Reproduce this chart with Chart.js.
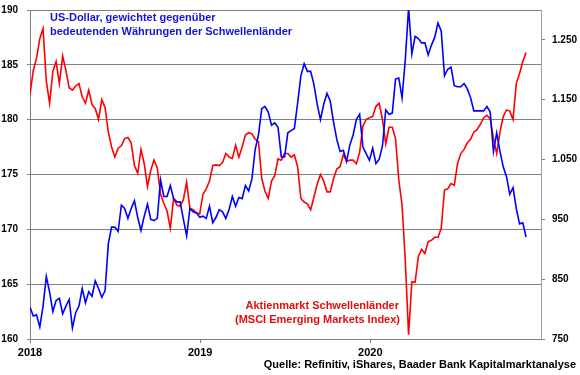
<!DOCTYPE html>
<html><head><meta charset="utf-8">
<script src="https://cdn.jsdelivr.net/npm/chart.js@4/dist/chart.umd.min.js"></script>
<style>html,body{margin:0;padding:0;background:#fff}canvas{display:block}</style>
</head><body>
<canvas id="c" width="580" height="375"></canvas>
<script>
// ---- data (weekly observations starting 2018-01-01) ----
const startDate = '2018-01-01';
const stepDays = 7;
const usdVsEmIndex = [
 162.9,162.1,162.2,161.1,163.0,165.7,164.3,162.5,163.5,163.7,
 162.3,163.0,163.6,161.0,162.4,163.0,164.6,163.3,164.3,163.9,
 165.3,164.6,163.8,164.4,168.7,170.2,170.2,169.8,172.2,171.9,
 171.0,171.9,172.6,171.1,169.9,171.2,172.3,170.9,170.8,171.0,
 174.5,173.0,173.0,174.0,172.8,172.5,172.5,170.9,169.4,171.9,
 171.6,171.5,171.1,171.2,171.0,172.1,170.6,171.1,171.8,171.6,
 171.0,171.8,173.0,172.1,172.9,172.8,174.0,173.5,174.6,177.3,
 178.6,181.0,181.2,180.7,179.5,179.7,179.3,176.6,176.6,178.8,
 179.0,179.2,181.5,184.0,185.1,184.4,184.4,183.2,181.4,180.0,
 181.4,182.4,181.7,179.8,178.2,177.1,177.2,176.2,177.7,178.6,
 180.0,180.5,177.5,176.9,176.3,177.4,176.0,176.4,177.6,180.9,
 180.5,180.6,183.7,183.8,182.0,185.5,190.2,186.0,187.6,187.4,
 187.0,187.0,185.9,186.8,187.5,188.8,188.1,184.0,184.6,184.8,
 183.1,183.0,183.0,183.3,182.8,182.0,180.8,180.8,180.8,180.8,
 181.2,180.7,177.1,178.8,177.1,175.7,174.8,173.2,173.8,171.9,
 170.5,170.6,169.3
];
const msciEmergingMarkets = [
 1159,1199,1219,1252,1269,1181,1144,1197,1214,1177,
 1223,1199,1170,1166,1173,1177,1155,1144,1166,1142,
 1135,1117,1150,1137,1096,1071,1054,1069,1073,1085,
 1087,1078,1040,1027,1067,1043,1005,1032,1049,1036,
 992,977,964,935,985,974,972,983,1012,968,
 966,961,959,992,1001,1014,1040,1041,1040,1045,
 1060,1054,1052,1074,1054,1071,1091,1095,1093,1084,
 1080,1019,997,985,1014,1023,1051,1049,1060,1060,
 1054,1058,1038,985,979,976,966,987,1009,1025,
 1014,996,996,1018,1034,1038,1058,1047,1049,1049,
 1043,1062,1106,1117,1120,1122,1139,1144,1117,1076,
 1104,1104,1085,1016,974,880,757,845,845,888,
 900,893,913,915,920,920,935,999,1001,1010,
 1007,1043,1060,1067,1078,1084,1096,1100,1109,1120,
 1124,1118,1085,1060,1096,1122,1133,1131,1117,1177,
 1194,1214,1229
];
const yearLabels = ['2018','2019','2020'];
const axisEndDate = '2021-01-01';
const leftTicks = [160,165,170,175,180,185,190];
const rightTicks = [750,850,950,1050,1150,1250];
const leftRange = [160,190];
const rightRange = [750,1300];
const blueTitle = ['US-Dollar, gewichtet gegenüber','bedeutenden Währungen der Schwellenländer'];
const redTitle = ['Aktienmarkt Schwellenländer','(MSCI Emerging Markets Index)'];
const sourceText = 'Quelle: Refinitiv, iShares, Baader Bank Kapitalmarktanalyse';

// ---- helpers ----
const DAY = 86400000;
const t0 = Date.parse(startDate + 'T00:00:00Z');
const daysFrom = s => (Date.parse(s + 'T00:00:00Z') - t0) / DAY;
const yearTickDays = yearLabels.map(y => daysFrom(y + '-01-01'));
const xMax = daysFrom(axisEndDate);
const fmtDE = v => { const s = String(Math.round(v)); return s.length > 3 ? s.slice(0, -3) + '.' + s.slice(-3) : s; };

const FONT = "'Liberation Sans', Arial, Helvetica, sans-serif";
const BLUE = '#0000ff', RED = '#ff0000', GRID = '#808080';

const textPlugin = {
  id: 'texts',
  afterDraw(chart) {
    const c = chart.ctx;
    c.save();
    c.font = 'bold 11px ' + FONT;
    c.textBaseline = 'middle';
    c.fillStyle = '#1414d2';
    c.textAlign = 'left';
    c.fillText(blueTitle[0], 50, 18);
    c.fillText(blueTitle[1], 50, 32);
    c.fillStyle = '#e01010';
    c.textAlign = 'right';
    c.fillText(redTitle[0], 399, 306);
    c.fillText(redTitle[1], 400, 320);
    c.fillStyle = '#000';
    c.fillText(sourceText, 576, 365);
    c.restore();
  }
};

const noPad = s => { s.paddingTop = 0; s.paddingBottom = 0; };

new Chart(document.getElementById('c'), {
  type: 'line',
  data: {
    datasets: [
      { label: 'USD', data: usdVsEmIndex.map((v, i) => ({ x: i * stepDays, y: v })), yAxisID: 'y',
        borderColor: BLUE, borderWidth: 1.6, pointRadius: 0, tension: 0, fill: false },
      { label: 'MSCI EM', data: msciEmergingMarkets.map((v, i) => ({ x: i * stepDays, y: v })), yAxisID: 'y1',
        borderColor: RED, borderWidth: 1.6, pointRadius: 0, tension: 0, fill: false }
    ]
  },
  options: {
    responsive: false, animation: false, devicePixelRatio: 1,
    layout: { padding: { top: 10, left: 0, right: 0, bottom: 0 } },
    plugins: { legend: { display: false }, tooltip: { enabled: false } },
    scales: {
      x: {
        type: 'linear', min: 0, max: xMax,
        afterBuildTicks: s => { s.ticks = yearTickDays.map(v => ({ value: v })); },
        afterFit: s => { s.height = 36; s.paddingLeft = 0; s.paddingRight = 0; },
        grid: { drawOnChartArea: false, drawTicks: true, tickLength: 4, color: GRID },
        border: { color: GRID },
        ticks: { autoSkip: false, maxRotation: 0, padding: 3, color: '#000',
          font: { family: FONT, size: 11, weight: 'bold' },
          callback: v => yearLabels[yearTickDays.indexOf(v)] }
      },
      y: {
        position: 'left', min: leftRange[0], max: leftRange[1],
        afterBuildTicks: s => { s.ticks = leftTicks.map(v => ({ value: v })); },
        afterFit: s => { s.width = 30; noPad(s); },
        grid: { color: GRID, tickLength: 3 },
        border: { color: GRID },
        ticks: { padding: 9, color: '#000', font: { family: FONT, size: 10, weight: 'bold' } }
      },
      y1: {
        position: 'right', min: rightRange[0], max: rightRange[1],
        afterBuildTicks: s => { s.ticks = rightTicks.map(v => ({ value: v })); },
        afterFit: s => { s.width = 39; noPad(s); },
        grid: { drawOnChartArea: false, tickLength: 4, color: GRID },
        border: { color: '#a0a0a0' },
        ticks: { padding: 7, color: '#000', font: { family: FONT, size: 10, weight: 'bold' }, callback: v => fmtDE(v) }
      }
    }
  },
  plugins: [textPlugin]
});
</script>
</body></html>
